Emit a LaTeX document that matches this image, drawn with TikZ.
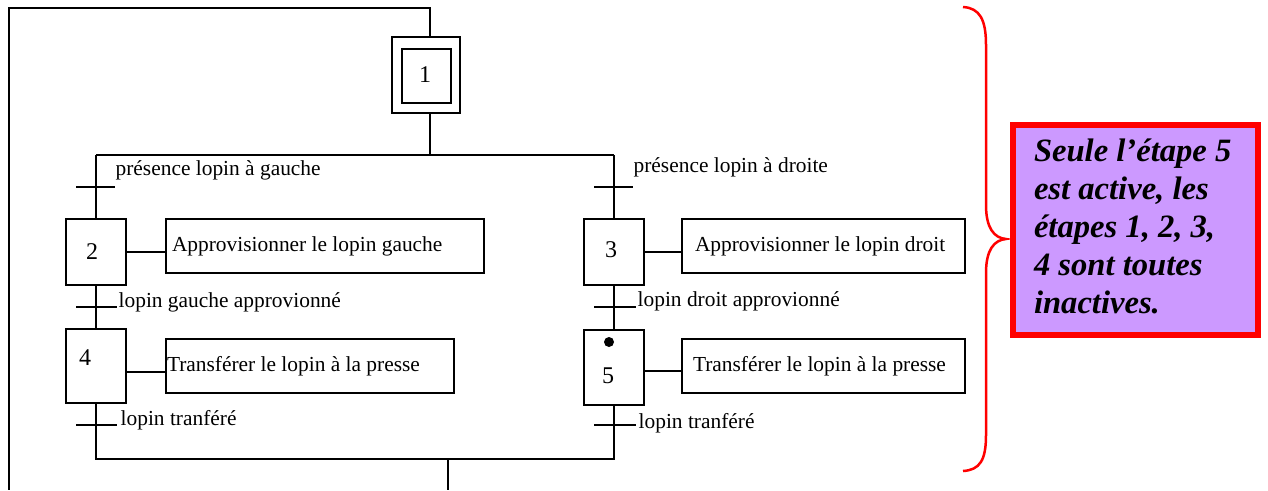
\documentclass[tikz,border=0pt]{standalone}
\usepackage{fontspec}
\setmainfont{Liberation Serif}
\usepackage{xcolor}
\usepackage{tikz}
\definecolor{mauve}{RGB}{204,153,255}
\tikzset{
  etape/.style={rectangle, draw, line width=1.3pt, minimum width=60, inner sep=0},
  action/.style={rectangle, draw, line width=1.3pt, minimum height=54, inner ysep=0,
    font=\fontsize{21.4}{25}\selectfont},
  num/.style={inner sep=0, font=\fontsize{24}{28}\selectfont},
  lbl/.style={anchor=west, inner sep=0, font=\fontsize{21.4}{25}\selectfont},
  recept/.style={line width=1.3pt},
  note/.style={rectangle, draw=red, line width=6pt, fill=mauve, minimum width=245, minimum height=210,
    inner xsep=21, font=\fontsize{32.6}{38}\selectfont\bfseries\itshape}
}
\begin{document}
\begin{tikzpicture}[x=1pt, y=-1pt, line width=1.3pt]
    \useasboundingbox (0,0) rectangle (1268,490);

    % etape initiale
    \node[etape, minimum width=68, minimum height=76] at (426,75) (e1) {};
    \node[etape, minimum width=49, minimum height=54] at (426.5,76) (e1in) {};
    \node[num] at (425,75) (n1) {1};

    % etapes
    \node[etape, minimum height=66] at (96,252) (e2) {};
    \node[etape, minimum height=74] at (96,366) (e4) {};
    \node[etape, minimum height=66] at (614,252) (e3) {};
    \node[etape, minimum height=75] at (614,367.5) (e5) {};
    \node[num] at (92,252) (n2) {2};
    \node[num] at (85,358) (n4) {4};
    \node[num] at (611,250) (n3) {3};
    \node[num] at (608,376) (n5) {5};
    \node[circle, fill, inner sep=0, minimum size=10] at (609,342) (jeton) {};

    % actions
    \node[action, minimum width=318, inner xsep=6] at (325,246) (a2) {\makebox[306pt][l]{Approvisionner le lopin gauche}};
    \node[action, minimum width=288, inner xsep=1] at (310,366) (a4) {\makebox[286pt][l]{Transférer le lopin à la presse}};
    \node[action, minimum width=283, inner xsep=13] at (823.5,246) (a3) {\makebox[257pt][l]{Approvisionner le lopin droit}};
    \node[action, minimum width=283, inner xsep=11] at (823.5,366) (a5) {\makebox[261pt][l]{Transférer le lopin à la presse}};

    \draw (e2.east) -- (e2.east -| a2.west);
    \draw ([yshift=-6]e4.east) -- ([yshift=-6]e4.east -| a4.west);
    \draw (e3.east) -- (e3.east -| a3.west);
    \draw ([yshift=-3.5]e5.east) -- ([yshift=-3.5]e5.east -| a5.west);

    % boucle de retour
    \coordinate (c1) at (430,8);
    \coordinate (c2) at (9,8);
    \coordinate (c3) at (9,490);
    \draw (e1.north -| c1) -- (c1) -- (c2) -- (c3);

    % divergence et convergence
    \coordinate (div) at (430,155);
    \coordinate (divg) at (96,155);
    \coordinate (divd) at (614,155);
    \coordinate (convg) at (96,459);
    \coordinate (convd) at (614,459);
    \coordinate (sortie) at (448,459);
    \coordinate (fin) at (448,490);
    \draw (e1.south -| div) -- (div);
    \draw (divg) -- (divd);
    \draw (divg) -- (e2.north);
    \draw (divd) -- (e3.north);
    \draw (e2.south) -- (e4.north);
    \draw (e3.south) -- (e5.north);
    \draw (e4.south) -- (convg) -- (convd) -- (e5.south);
    \draw (sortie) -- (fin);

    % receptivites
    \coordinate (t1) at (96,187);
    \coordinate (t2) at (614,187);
    \coordinate (t3) at (96,307);
    \coordinate (t4) at (614,307);
    \coordinate (t5) at (96,425);
    \coordinate (t6) at (614,425);
    \draw[recept] ([xshift=-20]t1) -- ([xshift=19]t1);
    \draw[recept] ([xshift=-20]t2) -- ([xshift=19]t2);
    \draw[recept] ([xshift=-20]t3) -- ([xshift=21]t3);
    \draw[recept] ([xshift=-20]t4) -- ([xshift=22]t4);
    \draw[recept] ([xshift=-20]t5) -- ([xshift=21]t5);
    \draw[recept] ([xshift=-20]t6) -- ([xshift=22]t6);
    \node[lbl] at (115,170) (l1) {présence lopin à gauche};
    \node[lbl] at (633,167) (l2) {présence lopin à droite};
    \node[lbl] at (118,302) (l3) {lopin gauche approvionné};
    \node[lbl] at (637,301) (l4) {lopin droit approvionné};
    \node[lbl] at (120,420) (l5) {lopin tranféré};
    \node[lbl] at (638,423) (l6) {lopin tranféré};

    % accolade et commentaire
    \draw[red, line width=2.5pt] (963,7) .. controls (980,8) and (986,20) .. (986,45) -- (986,205)
        .. controls (986,228) and (994,238) .. (1006,239)
        .. controls (994,240) and (986,250) .. (986,273) -- (986,435)
        .. controls (986,460) and (980,470) .. (963,471);
    \node[note] at (1135.5,230) (rem) {\makebox[203pt][l]{\begin{tabular}{@{}l@{}}Seule l’étape 5\\est active, les\\étapes 1, 2, 3,\\4 sont toutes\\inactives.\end{tabular}}};
\end{tikzpicture}
\end{document}
